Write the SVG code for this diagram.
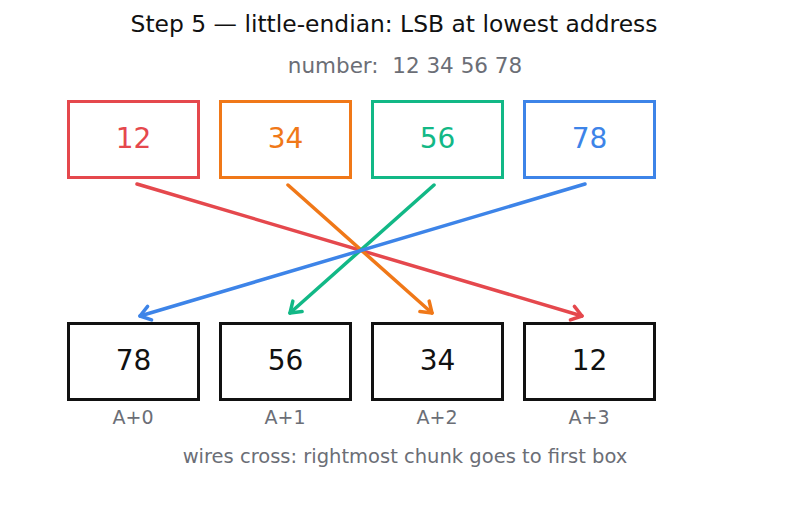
<svg xmlns="http://www.w3.org/2000/svg" width="787" height="510" viewBox="0 0 787 510">
<style>
text{font-family:"DejaVu Sans","Noto Sans",sans-serif;}
.title{font-size:23.4px;fill:#111;text-anchor:middle;}
.sub{font-size:21.5px;fill:#6b6e76;text-anchor:middle;}
.num{font-size:28px;text-anchor:middle;}
.addr{font-size:19px;fill:#6b6e76;text-anchor:middle;}
.foot{font-size:19.5px;fill:#6b6e76;text-anchor:middle;}
.top{fill:#fff;stroke-width:3;}
.bot{fill:#fff;stroke:#111;stroke-width:3;}
.wire{fill:none;stroke-width:3.5;stroke-linecap:round;}
</style>
<defs>
<marker id="mr" markerUnits="userSpaceOnUse" markerWidth="20" markerHeight="20" refX="13" refY="10" orient="auto"><path d="M3,3 L13,10 L3,17" fill="none" stroke="#e5484d" stroke-width="3.5" stroke-linecap="round" stroke-linejoin="round"/></marker>
<marker id="mo" markerUnits="userSpaceOnUse" markerWidth="20" markerHeight="20" refX="13" refY="10" orient="auto"><path d="M3,3 L13,10 L3,17" fill="none" stroke="#f07818" stroke-width="3.5" stroke-linecap="round" stroke-linejoin="round"/></marker>
<marker id="mg" markerUnits="userSpaceOnUse" markerWidth="20" markerHeight="20" refX="13" refY="10" orient="auto"><path d="M3,3 L13,10 L3,17" fill="none" stroke="#12b886" stroke-width="3.5" stroke-linecap="round" stroke-linejoin="round"/></marker>
<marker id="mb" markerUnits="userSpaceOnUse" markerWidth="20" markerHeight="20" refX="13" refY="10" orient="auto"><path d="M3,3 L13,10 L3,17" fill="none" stroke="#3d84e8" stroke-width="3.5" stroke-linecap="round" stroke-linejoin="round"/></marker>
</defs>
<rect width="787" height="510" fill="#fff"/>
<text class="title" x="394" y="32">Step 5 — little-endian: LSB at lowest address</text>
<text class="sub" x="405" y="73" xml:space="preserve">number:  12 34 56 78</text>
<g id="src12"><rect class="top" x="68.5" y="101.5" width="130" height="76" stroke="#e5484d"/><text class="num" x="133.5" y="148" fill="#e5484d">12</text></g>
<g id="src34"><rect class="top" x="220.5" y="101.5" width="130" height="76" stroke="#f07818"/><text class="num" x="285.5" y="148" fill="#f07818">34</text></g>
<g id="src56"><rect class="top" x="372.5" y="101.5" width="130" height="76" stroke="#12b886"/><text class="num" x="437.5" y="148" fill="#12b886">56</text></g>
<g id="src78"><rect class="top" x="524.5" y="101.5" width="130" height="76" stroke="#3d84e8"/><text class="num" x="589.5" y="148" fill="#3d84e8">78</text></g>
<g id="connectors">
<line class="wire" x1="137" y1="184" x2="582" y2="316" stroke="#e5484d" marker-end="url(#mr)"/>
<line class="wire" x1="288" y1="185" x2="432" y2="313" stroke="#f07818" marker-end="url(#mo)"/>
<line class="wire" x1="434" y1="185" x2="290" y2="313" stroke="#12b886" marker-end="url(#mg)"/>
<line class="wire" x1="585" y1="184" x2="140" y2="316" stroke="#3d84e8" marker-end="url(#mb)"/>
</g>
<g id="a0"><rect class="bot" x="68.5" y="323.5" width="130" height="76"/><text class="num" x="133.5" y="370" fill="#111">78</text><text class="addr" x="133" y="424">A+0</text></g>
<g id="a1"><rect class="bot" x="220.5" y="323.5" width="130" height="76"/><text class="num" x="285.5" y="370" fill="#111">56</text><text class="addr" x="285" y="424">A+1</text></g>
<g id="a2"><rect class="bot" x="372.5" y="323.5" width="130" height="76"/><text class="num" x="437.5" y="370" fill="#111">34</text><text class="addr" x="437" y="424">A+2</text></g>
<g id="a3"><rect class="bot" x="524.5" y="323.5" width="130" height="76"/><text class="num" x="589.5" y="370" fill="#111">12</text><text class="addr" x="589" y="424">A+3</text></g>
<text class="foot" x="405" y="463">wires cross: rightmost chunk goes to first box</text>
</svg>
